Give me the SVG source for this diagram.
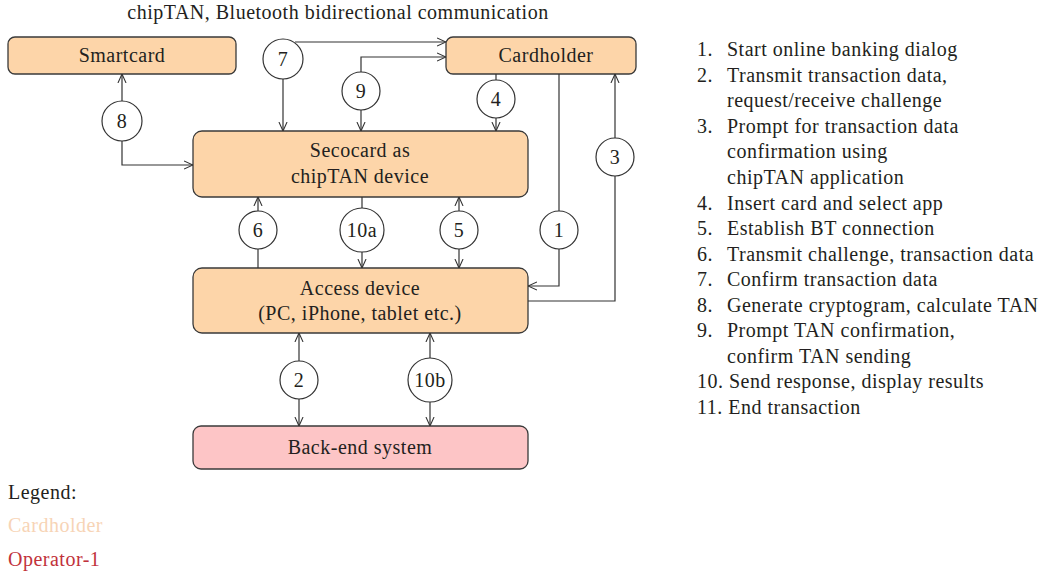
<svg xmlns="http://www.w3.org/2000/svg" width="1043" height="576" viewBox="0 0 1043 576">
<style>
text{font-family:"Liberation Serif","Times New Roman",serif;font-size:20px;letter-spacing:0.5px;fill:#231f20}
.c{text-anchor:middle}
.box{fill:#fdd5a9;stroke:#3a3a3a;stroke-width:1.3}
.be{fill:#fdc5c6;stroke:#3a3a3a;stroke-width:1.3}
.ln{fill:none;stroke:#333;stroke-width:1.2}
.cir{fill:#fff;stroke:#333;stroke-width:1.2}
</style>
<defs>
<marker id="ah" viewBox="0 0 10 10" refX="10" refY="5" markerWidth="9" markerHeight="11" markerUnits="userSpaceOnUse" orient="auto-start-reverse">
<path d="M0,0.5 L10,5 L0,9.5" fill="none" stroke="#333" stroke-width="1.2"/>
</marker>
</defs>
<text class="c" x="338" y="19">chipTAN, Bluetooth bidirectional communication</text>
<g id="smartcard"><rect class="box" x="8" y="37" width="228" height="37" rx="7"/><text class="c" x="122" y="62">Smartcard</text></g>
<g id="cardholder"><rect class="box" x="446" y="37" width="190" height="37" rx="7"/><text class="c" x="546" y="62">Cardholder</text></g>
<g id="secocard"><rect class="box" x="193" y="131" width="335" height="66" rx="9"/><text class="c" x="360" y="157">Secocard as</text><text class="c" x="360" y="183">chipTAN device</text></g>
<g id="access"><rect class="box" x="193" y="268" width="335" height="65" rx="9"/><text class="c" x="360" y="295">Access device</text><text class="c" x="360" y="320">(PC, iPhone, tablet etc.)</text></g>
<g id="backend"><rect class="be" x="193" y="426" width="335" height="43" rx="8"/><text class="c" x="360" y="454">Back-end system</text></g>
<g id="connectors">
<path class="ln" d="M295,42 H446" marker-end="url(#ah)"/>
<path class="ln" d="M283,78 V131" marker-end="url(#ah)"/>
<path class="ln" d="M361,72 V57 H446" marker-end="url(#ah)"/>
<path class="ln" d="M361,110 V131" marker-end="url(#ah)"/>
<path class="ln" d="M496,74 V80"/>
<path class="ln" d="M496,118 V131" marker-end="url(#ah)"/>
<path class="ln" d="M122,101 V74" marker-end="url(#ah)"/>
<path class="ln" d="M122,141 V165 H193" marker-end="url(#ah)"/>
<path class="ln" d="M559,74 V211"/>
<path class="ln" d="M559,249 V286 H528" marker-end="url(#ah)"/>
<path class="ln" d="M528,301 H615 V176"/>
<path class="ln" d="M615,138 V74" marker-end="url(#ah)"/>
<path class="ln" d="M258,268 V249"/>
<path class="ln" d="M258,211 V197" marker-end="url(#ah)"/>
<path class="ln" d="M362,197 V208"/>
<path class="ln" d="M362,252 V268" marker-end="url(#ah)"/>
<path class="ln" d="M459,211 V197" marker-end="url(#ah)"/>
<path class="ln" d="M459,249 V268" marker-end="url(#ah)"/>
<path class="ln" d="M299,361 V333" marker-end="url(#ah)"/>
<path class="ln" d="M299,399 V426" marker-end="url(#ah)"/>
<path class="ln" d="M430,358 V333" marker-end="url(#ah)"/>
<path class="ln" d="M430,402 V426" marker-end="url(#ah)"/>
</g>
<g id="c7"><circle class="cir" cx="283" cy="59" r="20"/><text class="c" x="283" y="66">7</text></g>
<g id="c9"><circle class="cir" cx="361" cy="91" r="19"/><text class="c" x="361" y="98">9</text></g>
<g id="c4"><circle class="cir" cx="496" cy="99" r="19"/><text class="c" x="496" y="106">4</text></g>
<g id="c8"><circle class="cir" cx="122" cy="121" r="20"/><text class="c" x="122" y="128">8</text></g>
<g id="c1"><circle class="cir" cx="559" cy="230" r="19"/><text class="c" x="559" y="237">1</text></g>
<g id="c3"><circle class="cir" cx="615" cy="157" r="19"/><text class="c" x="615" y="164">3</text></g>
<g id="c6"><circle class="cir" cx="258" cy="230" r="19"/><text class="c" x="258" y="237">6</text></g>
<g id="c10a"><circle class="cir" cx="362" cy="230" r="22"/><text class="c" x="362" y="237">10a</text></g>
<g id="c5"><circle class="cir" cx="459" cy="230" r="19"/><text class="c" x="459" y="237">5</text></g>
<g id="c2"><circle class="cir" cx="299" cy="380" r="19"/><text class="c" x="299" y="387">2</text></g>
<g id="c10b"><circle class="cir" cx="430" cy="380" r="22"/><text class="c" x="430" y="387">10b</text></g>
<g id="steps">
<text x="697" y="56">1.</text><text x="727" y="56">Start online banking dialog</text>
<text x="697" y="82">2.</text><text x="727" y="82">Transmit transaction data,</text>
<text x="727" y="107">request/receive challenge</text>
<text x="697" y="133">3.</text><text x="727" y="133">Prompt for transaction data</text>
<text x="727" y="158">confirmation using</text>
<text x="727" y="184">chipTAN application</text>
<text x="697" y="210">4.</text><text x="727" y="210">Insert card and select app</text>
<text x="697" y="235">5.</text><text x="727" y="235">Establish BT connection</text>
<text x="697" y="261">6.</text><text x="727" y="261">Transmit challenge, transaction data</text>
<text x="697" y="286">7.</text><text x="727" y="286">Confirm transaction data</text>
<text x="697" y="312">8.</text><text x="727" y="312">Generate cryptogram, calculate TAN</text>
<text x="697" y="337">9.</text><text x="727" y="337">Prompt TAN confirmation,</text>
<text x="727" y="363">confirm TAN sending</text>
<text x="697" y="388">10. Send response, display results</text>
<text x="697" y="414">11. End transaction</text>
</g>
<g id="legend">
<text x="8" y="499">Legend:</text>
<text x="8" y="532" style="fill:#f7d4b6">Cardholder</text>
<text x="8" y="566" style="fill:#c1323b">Operator-1</text>
</g>
</svg>
